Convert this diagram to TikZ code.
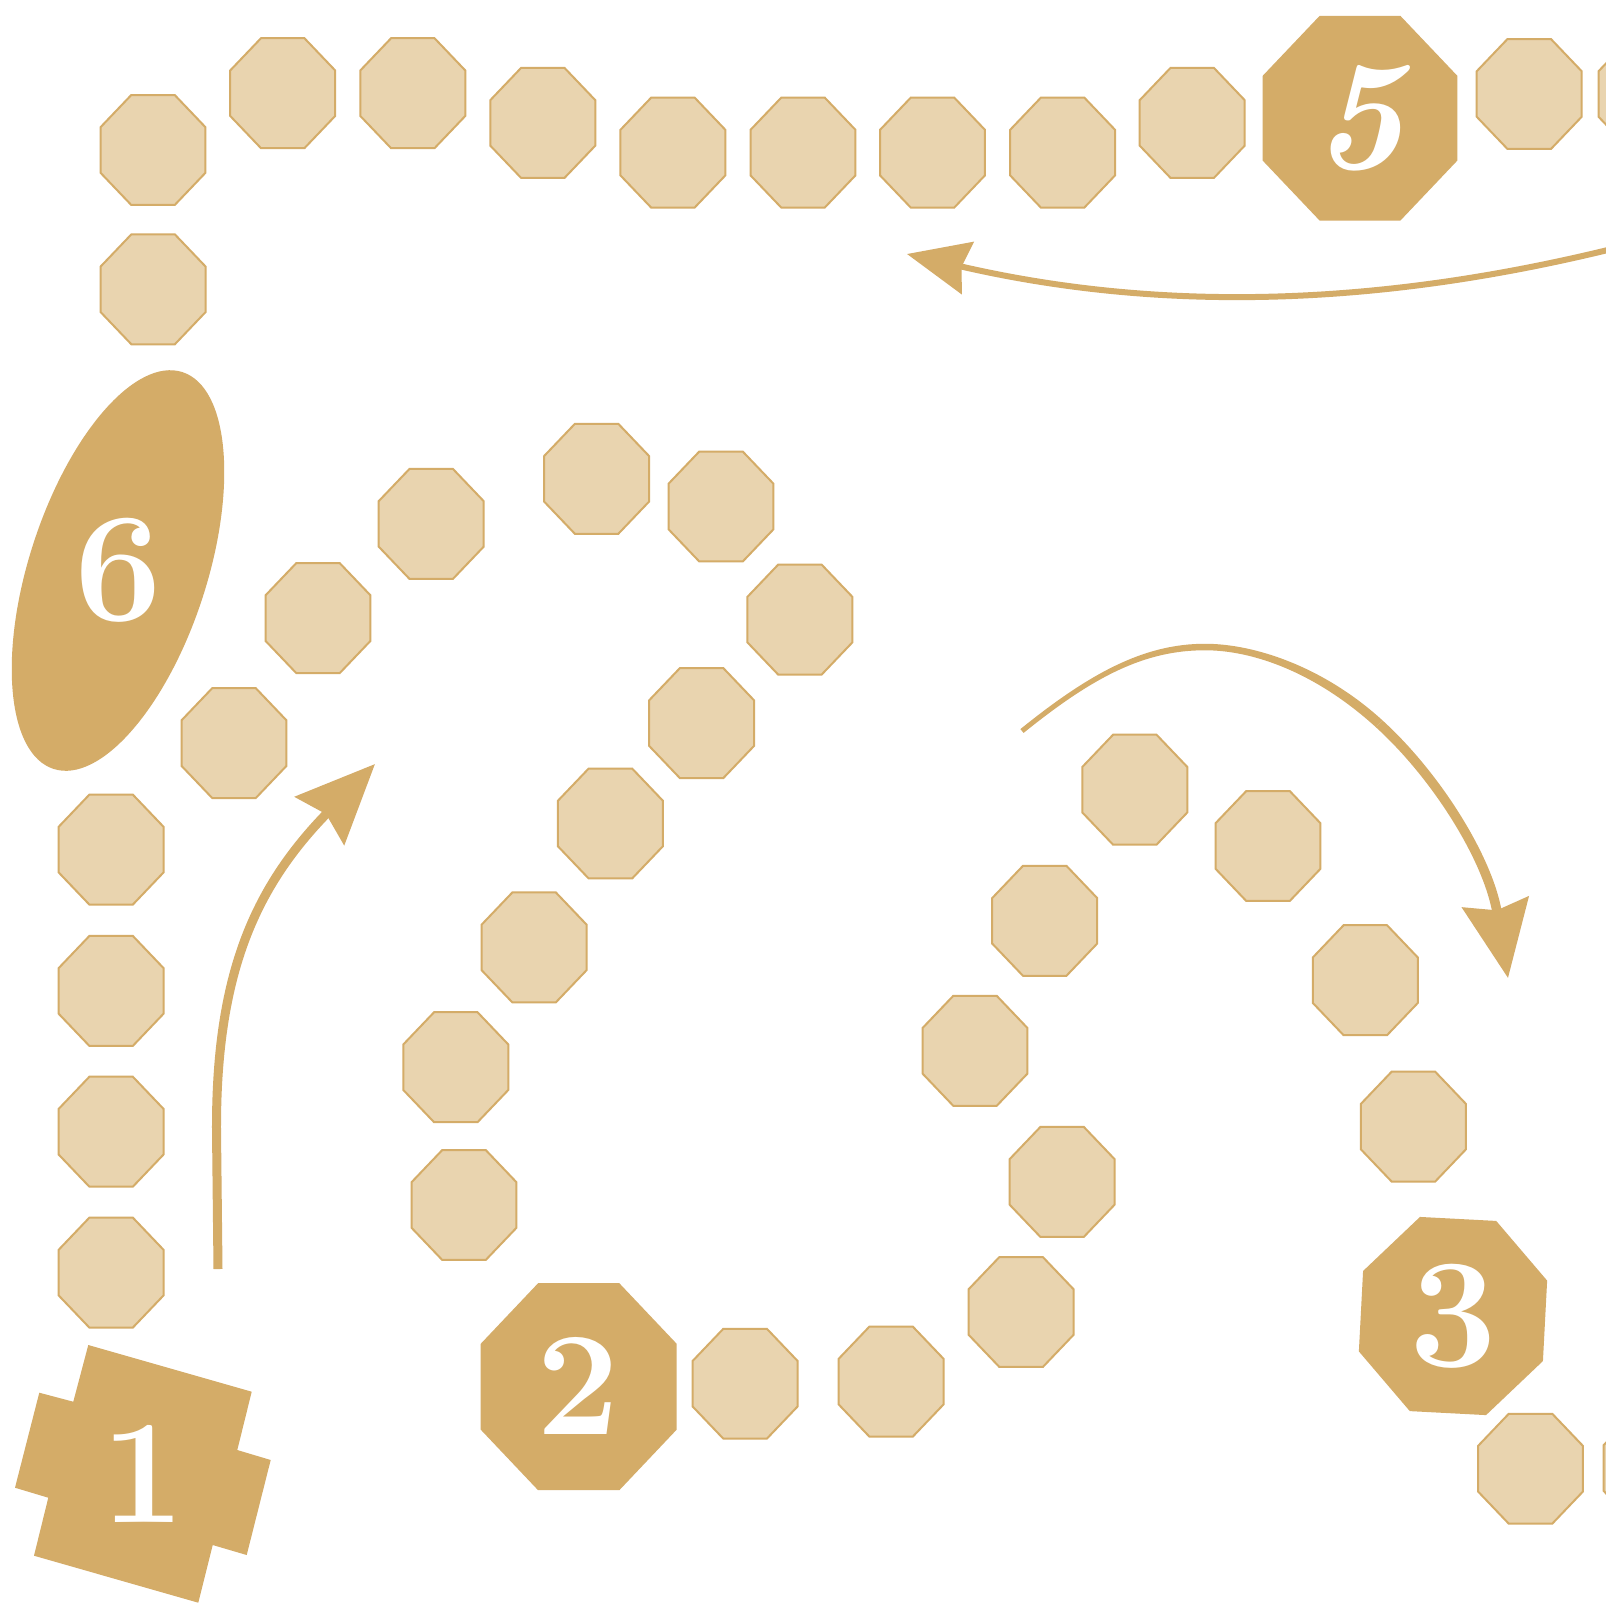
\documentclass[tikz,border=0pt]{standalone}
\usetikzlibrary{shapes.geometric,arrows.meta}
\definecolor{goldc}{RGB}{212,172,104}
\definecolor{sandc}{RGB}{233,212,175}
\begin{document}
\begin{tikzpicture}[x=0.5pt,y=-0.5pt,
  tile/.style={regular polygon, regular polygon sides=8, minimum size=56.8pt,
    inner sep=0pt, fill=sandc, draw=goldc, line width=1pt, yscale=1.0476},
  bigtile/.style={regular polygon, regular polygon sides=8, inner sep=0pt,
    fill=goldc, draw=none},
  num/.style={text=white, inner sep=0pt},
  arrowline/.style={draw=goldc}
]
\useasboundingbox (0,0) rectangle (1606,1603);
\fill[white] (0,0) rectangle (1606,1603);
\clip (0,0) rectangle (1606,1603);

% small tiles
\foreach \n/\x/\y in {
  a1/153/150, a2/282.7/93.2, a3/412.8/93.2, a4/542.8/122.9, a5/672.9/152.6,
  a6/803/152.6, a7/932.5/152.6, a8/1062.6/152.6, a9/1192.2/122.9,
  a11/1529.2/94, a12/1651/94,
  b1/153.1/289.3,
  c1/111.1/849.6, c2/111.1/990.9, c3/111.1/1131.7, c4/111.1/1272.6,
  d1/234/743.1, d2/318/618.1, d3/431.2/523.9, d4/596.6/478.8, d5/721/506.5,
  d6/799.9/619.6, d7/701.6/723.1, d8/610.4/823.5, d9/534.1/947.4,
  d10/455.8/1067.2, d11/464/1205,
  e1/745.1/1383.7, e2/891.1/1381.6, e3/1021.1/1312, e4/1062.1/1181.9,
  e5/975/1050.8, e6/1044.7/920.8, e7/1134.8/789.7, e8/1268/846,
  e9/1365.3/980.2, e10/1413.4/1126.6,
  f1/1530.5/1468.7, f2/1656/1468}
  \node[tile] (\n) at (\x,\y) {};

% numbered spaces
\fill[goldc] (88.3,1345) -- (251.7,1391.7) -- (237.3,1450) -- (270.7,1460)
  -- (246.7,1555) -- (212.7,1545) -- (198.3,1602.7) -- (34,1555.7)
  -- (48.3,1497.7) -- (15,1487.7) -- (39.3,1392.7) -- (73.3,1401.7) -- cycle;
\node[bigtile, minimum size=106.1pt, yscale=1.056] (s2) at (578.7,1386.7) {};
\node[bigtile, minimum size=99.75pt, rotate=-3, yscale=1.055] (s3) at (1453,1316) {};
\node[bigtile, minimum size=105.3pt, yscale=1.053] (s5) at (1360,118.2) {};
\node[ellipse, fill=goldc, draw=none, inner sep=0pt, minimum width=208.6pt,
  minimum height=88.8pt, rotate=72] (s6) at (118,570.5) {};

\node[num, font=\fontsize{74}{74}\selectfont\bfseries] (t1) at (143,1474) {1};
\node[num, font=\fontsize{74}{74}\selectfont\bfseries] (t2) at (578,1386) {2};
\node[num, font=\fontsize{78}{78}\selectfont\bfseries] (t3) at (1453,1316.5) {3};
\node[num, font=\fontsize{78}{78}\selectfont\bfseries\itshape] (t5) at (1359,118) {5};
\node[num, font=\fontsize{78}{78}\selectfont\bfseries] (t6) at (118.5,570.5) {6};

% arrows
\coordinate (a1s) at (218,1269);
\coordinate (a1m) at (216.5,1130);
\coordinate (a1e) at (375,764);
\draw[arrowline, line width=4.5pt, -{Stealth[length=39.5pt,width=34pt,inset=4.5pt]}]
  (a1s) -- (a1m) .. controls (216,975) and (254,888) .. (a1e);

\coordinate (a2s) at (1620,247);
\coordinate (a2e) at (907,254);
\draw[arrowline, line width=3pt, -{Stealth[length=31pt,width=26.5pt,inset=3pt]}]
  (a2s) .. controls (1372.6,308.7) and (1155.8,311.4) .. (a2e);

% tapered arrow (thin start, thick end)
\coordinate (a3s) at (1022,731);
\coordinate (a3m) at (1379.2,723.8);
\coordinate (a3e) at (1508,978);
\fill[goldc] (1023.6,732.9) .. controls (1094.1,675.9) and (1145,650.25) .. (1205,650.25)
  .. controls (1255,650.25) and (1317.7,674.1) .. (1376.0,727.3)
  -- (1382.4,720.3) .. controls (1324.1,667.1) and (1255,643.75) .. (1205,643.75)
  .. controls (1145,643.75) and (1090.9,672.1) .. (1020.4,729.1) -- cycle;
\draw[arrowline, line width=4.75pt, -{Stealth[length=38.3pt,width=33.2pt,inset=4pt]}]
  (a3m) .. controls (1437.55,776.95) and (1488.3,859.7) .. (a3e);
\end{tikzpicture}
\end{document}
